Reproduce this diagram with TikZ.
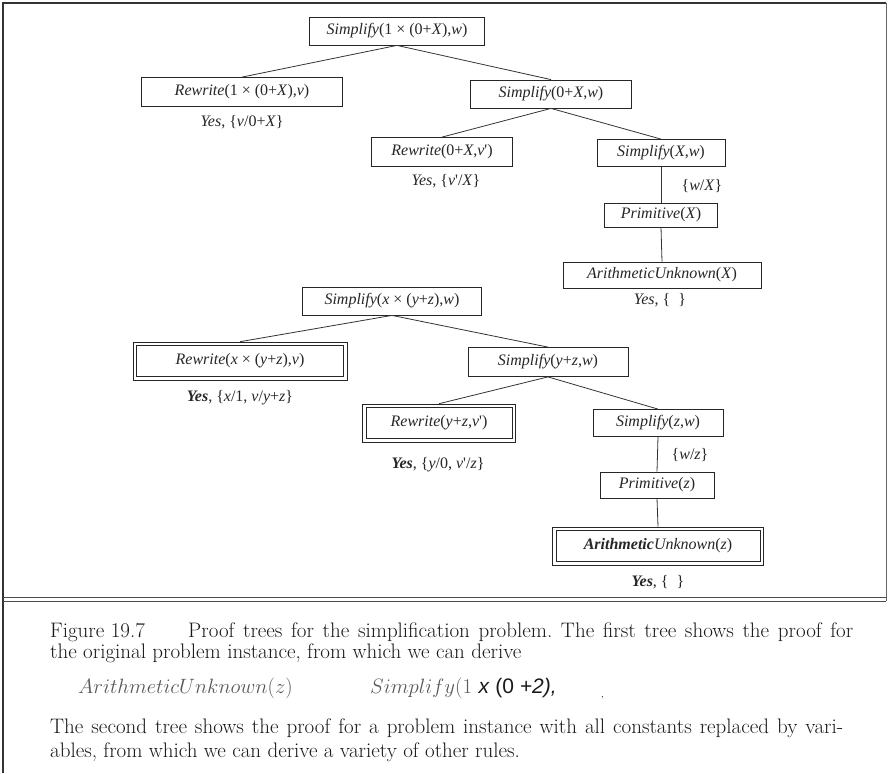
\documentclass[tikz,border=0pt]{standalone}
\usepackage{fontspec}
\usetikzlibrary{fit}
\newfontfamily\tf{Liberation Serif}
\newfontfamily\capsans{Liberation Sans}
\begin{document}
\frenchspacing
\begin{tikzpicture}[x=1pt,y=-1pt,
  box/.style={draw=black!85, line width=0.8pt, inner sep=0pt, font=\tf\fontsize{16}{18}\selectfont, text=black!85},
  outerbox/.style={draw=black!85, line width=0.8pt, inner sep=3pt},
  lab/.style={inner sep=0pt, font=\tf\fontsize{16}{18}\selectfont, text=black!85},
  edge/.style={draw=black!80, line width=0.8pt},
  frame/.style={draw=black!80, line width=1.2pt},
  captext/.style={inner sep=0pt, anchor=base west, font=\fontsize{21}{24}\selectfont, text=black!90}]
\useasboundingbox (0,0) rectangle (888,773);
% frame
\draw[frame] (3,773) -- (3,3) -- (886,3);
\draw[draw=black!60, line width=0.9pt] (886,3) -- (886,601);
\draw[draw=black!70, line width=0.9pt] (3,597) -- (886,597);
\draw[draw=black!70, line width=0.9pt] (3,601) -- (886,601);
% tree 1
\node[box, minimum width=175pt, minimum height=28pt] (s1) at (397,31) {\textit{Simplify}(1 × (0+\textit{X}),\textit{w})};
\node[box, minimum width=201pt, minimum height=29pt] (r1) at (242,92) {\textit{Rewrite}(1 × (0+\textit{X}),\textit{v})};
\node[lab] (y1) at (242,122) {\textit{Yes}, \{\textit{v}/0+\textit{X}\}};
\node[box, minimum width=161pt, minimum height=28pt] (s2) at (551,94) {\textit{Simplify}(0+\textit{X},\textit{w})};
\node[box, minimum width=141pt, minimum height=29pt] (r2) at (442,152) {\textit{Rewrite}(0+\textit{X},\textit{v}')};
\node[lab] (y2) at (446,181) {\textit{Yes}, \{\textit{v}'/\textit{X}\}};
\node[box, minimum width=128pt, minimum height=27pt] (s3) at (661,153) {\textit{Simplify}(\textit{X},\textit{w})};
\node[lab] (l1) at (702,186) {\{\textit{w}/\textit{X}\}};
\node[box, minimum width=113pt, minimum height=24pt] (p1) at (661,215) {\textit{Primitive}(\textit{X})};
\node[box, minimum width=198pt, minimum height=26pt] (a1) at (662,275) {\textit{ArithmeticUnknown}(\textit{X})};
\node[lab] (y3) at (660,300) {\textit{Yes}, \{ \ \}};
\draw[edge] (s1.south) -- (r1.north);
\draw[edge] (s1.south) -- (s2.north);
\draw[edge] (s2.south) -- (r2.north);
\draw[edge] (s2.south) -- (s3.north);
\draw[edge] (s3.south) -- (p1.north);
\draw[edge] (p1.south) -- (a1.north);
% tree 2
\node[box, minimum width=179pt, minimum height=28pt] (t) at (392,301) {\textit{Simplify}(\textit{x} × (\textit{y}+\textit{z}),\textit{w})};
\node[box, minimum width=207pt, minimum height=31pt] (r3) at (240,361) {\textit{Rewrite}(\textit{x} × (\textit{y}+\textit{z}),\textit{v})};
\node[outerbox, fit=(r3)] (r3o) {};
\node[lab] (y4) at (240,398) {\textbf{\textit{Yes}}, \{\textit{x}/1, \textit{v}/\textit{y}+\textit{z}\}};
\node[box, minimum width=160pt, minimum height=29pt] (s4) at (548,362) {\textit{Simplify}(\textit{y}+\textit{z},\textit{w})};
\node[box, minimum width=146pt, minimum height=31pt] (r4) at (439,423) {\textit{Rewrite}(\textit{y}+\textit{z},\textit{v}')};
\node[outerbox, fit=(r4)] (r4o) {};
\node[lab] (y5) at (438,465) {\textbf{\textit{Yes}}, \{\textit{y}/0, \textit{v}'/\textit{z}\}};
\node[box, minimum width=130pt, minimum height=27pt] (s5) at (658,423) {\textit{Simplify}(\textit{z},\textit{w})};
\node[lab] (l2) at (690,455) {\{\textit{w}/\textit{z}\}};
\node[box, minimum width=114pt, minimum height=26pt] (p2) at (657,485) {\textit{Primitive}(\textit{z})};
\node[box, minimum width=204pt, minimum height=31pt] (a2) at (658,546) {\textbf{\textit{Arithmetic}}\textit{Unknown}(\textit{z})};
\node[outerbox, fit=(a2)] (a2o) {};
\node[lab] (y6) at (658,582) {\textbf{\textit{Yes}}, \{ \ \}};
\draw[edge] (t.south) -- (r3o.north);
\draw[edge] (t.south) -- (s4.north);
\draw[edge] (s4.south) -- (r4o.north);
\draw[edge] (s4.south) -- (s5.north);
\draw[edge] (s5.south) -- (p2.north);
\draw[edge] (p2.south) -- (a2o.north);
% caption
\node[captext] (c0) at (50,637) {Figure 19.7};
\node[captext] (c1) at (188,637) {\makebox[665pt][s]{Proof trees for the simplification problem. The first tree shows the proof for}};
\node[captext] (c2) at (50,658) {the original problem instance, from which we can derive};
\node[captext, text=black!65] (c3) at (78,693) {$ArithmeticUnknown(z)$};
\node[captext] (c4) at (370,693) {\textcolor{black!65}{$Simplify$(1} {\capsans\itshape x} {\capsans (0 \itshape +2),}};
\node[captext, font=\fontsize{10}{12}\selectfont] (c7) at (601,697) {,};
\node[captext] (c5) at (50,733) {\makebox[793pt][s]{The second tree shows the proof for a problem instance with all constants replaced by vari-}};
\node[captext] (c6) at (50,757) {ables, from which we can derive a variety of other rules.};
\end{tikzpicture}
\end{document}
